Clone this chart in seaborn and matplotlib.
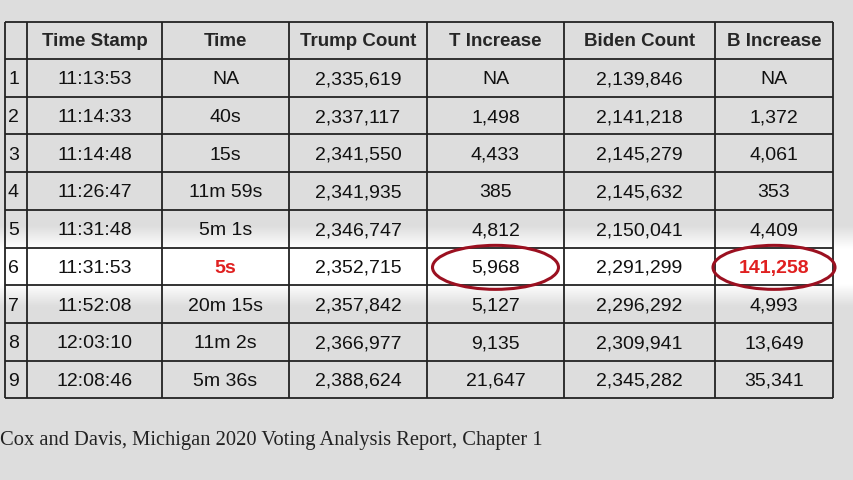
import matplotlib
matplotlib.use("Agg")
import matplotlib.pyplot as plt
import seaborn as sns
import numpy as np
from matplotlib.patches import Ellipse

sns.set_theme(style="white")

headers = ["", "Time Stamp", "Time", "Trump Count", "T Increase", "Biden Count", "B Increase"]
row_ids = ["1", "2", "3", "4", "5", "6", "7", "8", "9"]
time_stamps = ["11:13:53", "11:14:33", "11:14:48", "11:26:47", "11:31:48", "11:31:53", "11:52:08", "12:03:10", "12:08:46"]
durations = ["NA", "40s", "15s", "11m 59s", "5m 1s", "5s", "20m 15s", "11m 2s", "5m 36s"]
trump_counts = ["2,335,619", "2,337,117", "2,341,550", "2,341,935", "2,346,747", "2,352,715", "2,357,842", "2,366,977", "2,388,624"]
t_increase = ["NA", "1,498", "4,433", "385", "4,812", "5,968", "5,127", "9,135", "21,647"]
biden_counts = ["2,139,846", "2,141,218", "2,145,279", "2,145,632", "2,150,041", "2,291,299", "2,296,292", "2,309,941", "2,345,282"]
b_increase = ["NA", "1,372", "4,061", "353", "4,409", "141,258", "4,993", "13,649", "35,341"]
caption = "Cox and Davis, Michigan 2020 Voting Analysis Report, Chapter 1"

col_edges = [5, 27, 162, 289, 427, 564, 715, 833]
top, header_h, row_h = 22, 37, 37.7

fig = plt.figure(figsize=(8.54, 4.80), dpi=100)
ax = fig.add_axes([0, 0, 1, 1])
ax.set_xlim(0, 854); ax.set_ylim(480, 0); ax.axis("off")

ys = np.linspace(0, 480, 481)
c = 22 + header_h + 5.5 * row_h
w = np.clip(1 - (np.abs(ys - c) - 18) / 22, 0, 1)
gray = 0.87 + 0.13 * w
img = np.repeat(gray[:, None], 2, axis=1)
ax.imshow(np.dstack([img]*3), extent=[0, 854, 480, 0], aspect="auto", zorder=0)

n = len(row_ids)
bottom = top + header_h + n * row_h
ax.vlines(col_edges, top, bottom, color="#222", lw=1.3, zorder=2)
ax.hlines([top] + [top + header_h + i * row_h for i in range(n + 1)], col_edges[0], col_edges[-1], color="#222", lw=1.3, zorder=2)

centers = [(col_edges[i] + col_edges[i + 1]) / 2 for i in range(len(col_edges) - 1)]
for i, h in enumerate(headers):
    ax.text(centers[i], top + header_h / 2 + 1, h, ha="center", va="center", fontsize=13.5, fontweight="bold", family="Liberation Sans", zorder=3)

cols = [row_ids, time_stamps, durations, trump_counts, t_increase, biden_counts, b_increase]
for r in range(n):
    y = top + header_h + (r + 0.5) * row_h + 2
    for ci, col in enumerate(cols):
        kw = dict(color="#111", fontweight="normal")
        if r == 5 and ci in (2, 6):
            kw = dict(color="#e02020", fontweight="bold")
        x = col_edges[0] + 3 if ci == 0 else centers[ci]
        ax.text(x, y, col[r], ha="left" if ci == 0 else "center", va="center", fontsize=14, family="Liberation Sans", zorder=3, **kw)

ry = top + header_h + 5.5 * row_h + 1
for cx, ew in [(centers[4], 126), (centers[6], 122)]:
    ax.add_patch(Ellipse((cx, ry), ew, 44, fill=False, ec="#9b1020", lw=2.2, zorder=4))

ax.text(0, 440, caption, ha="left", va="center", fontsize=14.8, family="Liberation Serif", color="#222")
fig.savefig("out.png", dpi=100)
